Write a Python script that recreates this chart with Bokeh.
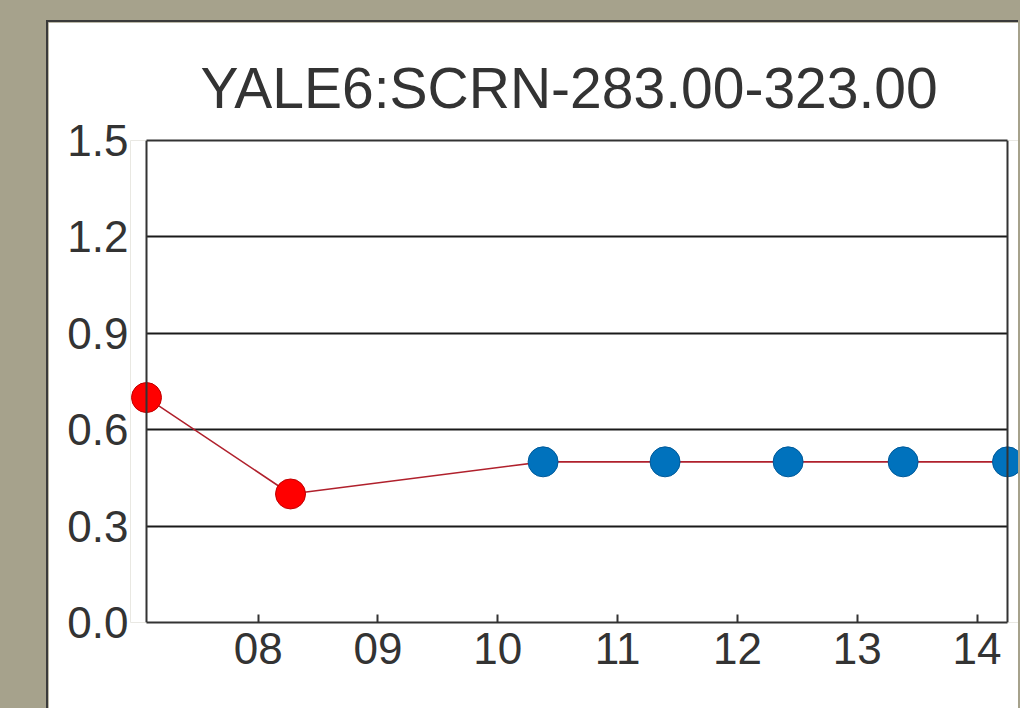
from bokeh.plotting import figure
from bokeh.models import FixedTicker, Range1d, ColumnDataSource, LinearAxis, Span
from bokeh.embed import file_html
from bokeh.resources import INLINE

title_text = "YALE6:SCRN-283.00-323.00"
x_vals = [7.068, 8.27, 10.378, 11.396, 12.423, 13.383, 14.254]
y_vals = [0.7, 0.4, 0.5, 0.5, 0.5, 0.5, 0.5]
pt_colors = ["#ff0000", "#ff0000", "#0072bd", "#0072bd", "#0072bd", "#0072bd", "#0072bd"]
pt_lines = ["#c00000", "#c00000", "#005a9a", "#005a9a", "#005a9a", "#005a9a", "#005a9a"]
x_ticks = [8, 9, 10, 11, 12, 13, 14]
x_tick_labels = ["08", "09", "10", "11", "12", "13", "14"]
y_ticks = [0.0, 0.3, 0.6, 0.9, 1.2, 1.5]
y_tick_labels = ["0.0", "0.3", "0.6", "0.9", "1.2", "1.5"]

FONT = "Liberation Sans"
AX = "#333333"

x_lo, x_hi = min(x_vals), max(x_vals)
y_lo, y_hi = y_ticks[0], y_ticks[-1]
# frame is a little wider than the drawn box, so edge markers are not cut
px_per_unit = 119.8
pad_l, pad_r = 16 / px_per_unit, 13 / px_per_unit

p = figure(width=972, height=690, output_backend="svg", toolbar_location=None,
           x_range=Range1d(x_lo - pad_l, x_hi + pad_r), y_range=Range1d(y_lo, y_hi),
           min_border_left=82, min_border_right=0, min_border_top=118, min_border_bottom=90)
p.margin = (20, 0, 0, 46)
p.styles = {"border-left": "2px solid #3a3a3a", "border-top": "2px solid #3a3a3a"}

p.title.text = title_text
p.title.text_font = FONT
p.title.text_font_size = "57px"
p.title.text_font_style = "normal"
p.title.text_color = "#333333"
p.title.align = "left"
p.title.offset = 70
p.title.standoff = 41

p.background_fill_color = "white"
p.border_fill_color = "white"
p.outline_line_color = None

src = ColumnDataSource(dict(x=x_vals, y=y_vals, c=pt_colors, lc=pt_lines))
p.line("x", "y", source=src, line_color="#b0202c", line_width=1.6)
p.scatter("x", "y", source=src, size=30, fill_color="c", line_color="lc", line_width=1)

for ax in (p.xaxis[0], p.yaxis[0]):
    ax.axis_line_color = AX
    ax.axis_line_width = 2
    ax.major_tick_in = 8
    ax.major_tick_out = 0
    ax.major_tick_line_color = AX
    ax.major_tick_line_width = 2
    ax.minor_tick_line_color = None
    ax.major_label_text_font = FONT
    ax.major_label_text_font_size = "44px"
    ax.major_label_text_color = "#333333"

p.xaxis.ticker = FixedTicker(ticks=x_ticks)
p.xaxis.major_label_overrides = {t: l for t, l in zip(x_ticks, x_tick_labels)}
p.xaxis.major_label_standoff = 10
p.xaxis.bounds = (x_lo, x_hi)

# y axis sits at the frame edge; its labels end just left of the drawn box
p.yaxis.ticker = FixedTicker(ticks=y_ticks)
p.yaxis.major_label_overrides = {t: l for t, l in zip(y_ticks, y_tick_labels)}
p.yaxis.major_label_standoff = 2
p.yaxis.axis_line_color = None
p.yaxis.major_tick_line_color = None

top_axis = LinearAxis(ticker=FixedTicker(ticks=[]), bounds=(x_lo, x_hi),
                      axis_line_color=AX, axis_line_width=2,
                      major_tick_line_color=None, minor_tick_line_color=None,
                      major_label_text_font_size="0px", major_label_standoff=0)
p.add_layout(top_axis, "above")

p.add_layout(Span(location=x_lo, dimension="height", line_color=AX, line_width=2))
p.add_layout(Span(location=x_hi, dimension="height", line_color=AX, line_width=2))

p.xgrid.grid_line_color = None
p.ygrid.ticker = FixedTicker(ticks=y_ticks[1:-1])
p.ygrid.grid_line_color = "#1a1a1a"
p.ygrid.grid_line_width = 2
if "cross_bounds" in p.ygrid[0].properties():
    p.ygrid.cross_bounds = (x_lo, x_hi)
else:
    p.ygrid.grid_line_color = None
    gy = y_ticks[1:-1]
    p.segment(x0=[x_lo] * len(gy), x1=[x_hi] * len(gy), y0=gy, y1=gy,
              line_color="#1a1a1a", line_width=2, level="underlay")

html = file_html(p, INLINE)
html = html.replace("</head>",
                    "<style>html, body { background: #a6a28c; overflow: hidden; }</style></head>", 1)
open("out.html", "w").write(html)
